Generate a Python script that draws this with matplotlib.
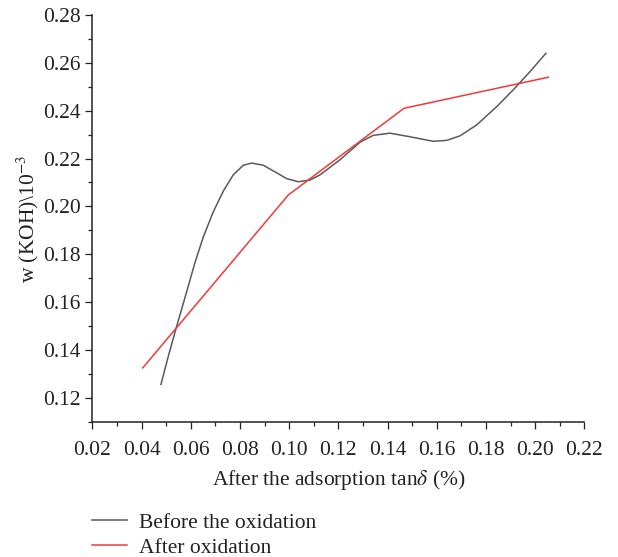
import matplotlib
matplotlib.use('Agg')
import matplotlib.pyplot as plt
from matplotlib.ticker import MultipleLocator

# values
before_x = [0.0479, 0.0509, 0.0539, 0.0577, 0.0617, 0.0651, 0.0692, 0.0733, 0.0773,
            0.0814, 0.0848, 0.0895, 0.0950, 0.0990, 0.1037, 0.1085, 0.1126, 0.1207,
            0.1288, 0.1342, 0.1410, 0.1491, 0.1586, 0.1641, 0.1695, 0.1763, 0.1844,
            0.1911, 0.1979, 0.2044]
before_y = [0.1256, 0.1374, 0.1485, 0.1620, 0.1764, 0.1872, 0.1978, 0.2065, 0.2132,
            0.2172, 0.2181, 0.2172, 0.2140, 0.2116, 0.2103, 0.2110, 0.2132, 0.2195,
            0.2268, 0.2297, 0.2306, 0.2291, 0.2272, 0.2276, 0.2295, 0.2341, 0.2417,
            0.2487, 0.2563, 0.2640]
after_x = [0.0405, 0.0997, 0.1467, 0.2054]
after_y = [0.1325, 0.2048, 0.2410, 0.2540]

plt.rcParams['font.family'] = 'Liberation Serif'
plt.rcParams['mathtext.fontset'] = 'stix'
fs = 15.5

fig = plt.figure(figsize=(6.18, 5.57), dpi=100)
ax = fig.add_axes([0.1494, 0.2429, 0.7961, 0.7302])

ax.plot(before_x, before_y, color='#5a5a5a', lw=1.1, label='Before the oxidation')
ax.plot(after_x, after_y, color='#f03a3a', lw=1.1, label='After oxidation')

ax.set_xlim(0.02, 0.22)
ax.set_ylim(0.11, 0.28)
ax.xaxis.set_major_locator(MultipleLocator(0.02))
ax.xaxis.set_minor_locator(MultipleLocator(0.01))
ax.set_yticks([0.12, 0.14, 0.16, 0.18, 0.20, 0.22, 0.24, 0.26, 0.28])
ax.yaxis.set_minor_locator(MultipleLocator(0.01))
ax.xaxis.set_major_formatter(plt.FormatStrFormatter('%.2f'))
ax.yaxis.set_major_formatter(plt.FormatStrFormatter('%.2f'))

for s in ['top', 'right']:
    ax.spines[s].set_visible(False)
for s in ['left', 'bottom']:
    ax.spines[s].set_linewidth(1.1)
    ax.spines[s].set_color('#222222')

ax.tick_params(which='major', direction='out', length=5, width=0.9, labelsize=fs,
               colors='#222222')
ax.tick_params(axis='x', which='major', pad=9)
ax.tick_params(which='minor', direction='out', length=3, width=0.9, colors='#222222')

ax.set_xlabel(r'After the adsorption tan$\delta$ (%)', fontsize=fs, color='#222222',
              labelpad=6)
ax.set_ylabel(r'w (KOH)\10$^{-3}$', fontsize=fs, color='#222222', labelpad=1)

leg = fig.legend(loc='upper left', bbox_to_anchor=(0.149, 0.080), frameon=False,
                 fontsize=fs, handlelength=1.6, handletextpad=0.6, labelspacing=0.25,
                 borderaxespad=0, borderpad=0)
for t in leg.get_texts():
    t.set_color('#222222')

fig.savefig('out.png', dpi=100)
